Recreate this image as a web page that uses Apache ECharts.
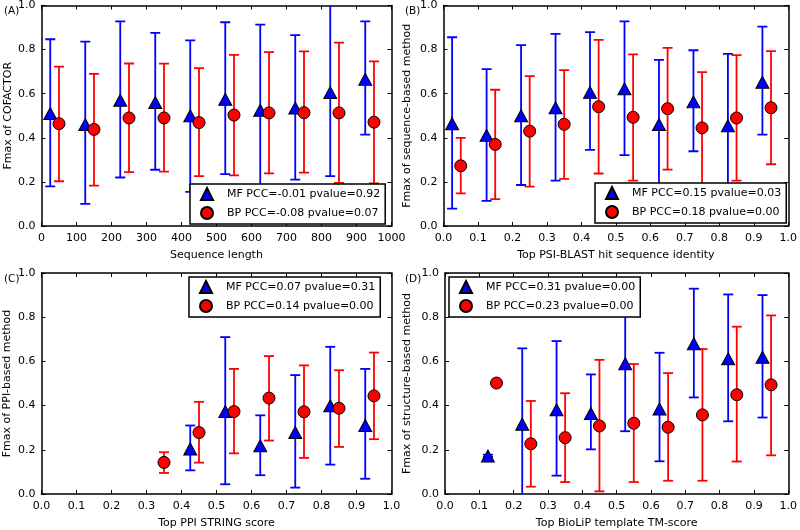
<!DOCTYPE html>
<html><head><meta charset="utf-8">
<script src="https://cdn.jsdelivr.net/npm/echarts@6/dist/echarts.min.js"></script>
<style>html,body{margin:0;padding:0;background:#fff}#c{width:800px;height:530px}</style>
</head><body><div id="c"></div>
<script>
// ---------- Panel A: Sequence length ----------
const A_mf_x    = [25,125,225,325,425,525,625,725,825,925];
const A_mf_mean = [0.51,0.46,0.57,0.56,0.50,0.575,0.525,0.535,0.605,0.665];
const A_mf_low  = [0.18,0.10,0.22,0.255,0.155,0.235,0.14,0.21,0.226,0.414];
const A_mf_high = [0.847,0.836,0.928,0.876,0.842,0.924,0.913,0.866,1.05,0.928];
const A_bp_x    = [50,150,250,350,450,550,650,750,850,950];
const A_bp_mean = [0.464,0.438,0.49,0.49,0.469,0.503,0.513,0.514,0.513,0.471];
const A_bp_low  = [0.203,0.183,0.244,0.247,0.226,0.23,0.239,0.242,0.196,0.193];
const A_bp_high = [0.723,0.69,0.737,0.736,0.716,0.776,0.789,0.792,0.832,0.747];
// ---------- Panel B: PSI-BLAST identity ----------
const B_mf_x    = [0.025,0.125,0.225,0.325,0.425,0.525,0.625,0.725,0.825,0.925];
const B_mf_mean = [0.464,0.411,0.5,0.536,0.606,0.622,0.46,0.563,0.455,0.652];
const B_mf_low  = [0.079,0.114,0.186,0.206,0.345,0.321,0.14,0.339,0.12,0.414];
const B_mf_high = [0.856,0.711,0.82,0.871,0.879,0.928,0.753,0.797,0.781,0.904];
const B_bp_x    = [0.05,0.15,0.25,0.35,0.45,0.55,0.65,0.75,0.85,0.95];
const B_bp_mean = [0.273,0.37,0.43,0.461,0.541,0.493,0.532,0.445,0.49,0.536];
const B_bp_low  = [0.148,0.122,0.179,0.214,0.238,0.206,0.256,0.17,0.206,0.28];
const B_bp_high = [0.4,0.618,0.68,0.707,0.844,0.778,0.808,0.698,0.775,0.793];
// ---------- Panel C: PPI STRING score ----------
const C_mf_x    = [0.425,0.525,0.625,0.725,0.825,0.925];
const C_mf_mean = [0.204,0.373,0.218,0.278,0.399,0.31];
const C_mf_low  = [0.107,0.044,0.085,0.029,0.133,0.069];
const C_mf_high = [0.31,0.71,0.356,0.538,0.666,0.566];
const C_bp_x    = [0.35,0.45,0.55,0.65,0.75,0.85,0.95];
const C_bp_mean = [0.143,0.278,0.373,0.434,0.372,0.388,0.444];
const C_bp_low  = [0.095,0.142,0.184,0.242,0.163,0.213,0.248];
const C_bp_high = [0.189,0.417,0.566,0.624,0.582,0.56,0.64];
// ---------- Panel D: BioLiP TM-score ----------
const D_mf_x    = [0.125,0.225,0.325,0.425,0.525,0.625,0.725,0.825,0.925];
const D_mf_mean = [0.172,0.316,0.381,0.364,0.589,0.385,0.68,0.612,0.619];
const D_mf_low  = [0.168,-0.05,0.083,0.202,0.284,0.148,0.437,0.329,0.346];
const D_mf_high = [0.178,0.659,0.692,0.541,0.88,0.639,0.929,0.903,0.9];
const D_bp_x    = [0.15,0.25,0.35,0.45,0.55,0.65,0.75,0.85,0.95];
const D_bp_mean = [0.502,0.227,0.255,0.308,0.32,0.302,0.358,0.449,0.494];
const D_bp_low  = [0.502,0.033,0.054,0.012,0.054,0.06,0.06,0.147,0.175];
const D_bp_high = [0.502,0.421,0.456,0.607,0.588,0.547,0.656,0.757,0.808];

const panelTags   = ['(A)','(B)','(C)','(D)'];
const xNames      = ['Sequence length','Top PSI-BLAST hit sequence identity','Top PPI STRING score','Top BioLiP template TM-score'];
const yNames      = ['Fmax of COFACTOR','Fmax of sequence-based method','Fmax of PPI-based method','Fmax of structure-based method'];
const mfLegend    = ['MF PCC=-0.01 pvalue=0.92','MF PCC=0.15 pvalue=0.03','MF PCC=0.07 pvalue=0.31','MF PCC=0.31 pvalue=0.00'];
const bpLegend    = ['BP PCC=-0.08 pvalue=0.07','BP PCC=0.18 pvalue=0.00','BP PCC=0.14 pvalue=0.00','BP PCC=0.23 pvalue=0.00'];

const panels = [
  {mf:[A_mf_x,A_mf_mean,A_mf_low,A_mf_high], bp:[A_bp_x,A_bp_mean,A_bp_low,A_bp_high], xmax:1000, xint:100, dec:0},
  {mf:[B_mf_x,B_mf_mean,B_mf_low,B_mf_high], bp:[B_bp_x,B_bp_mean,B_bp_low,B_bp_high], xmax:1, xint:0.1, dec:1},
  {mf:[C_mf_x,C_mf_mean,C_mf_low,C_mf_high], bp:[C_bp_x,C_bp_mean,C_bp_low,C_bp_high], xmax:1, xint:0.1, dec:1},
  {mf:[D_mf_x,D_mf_mean,D_mf_low,D_mf_high], bp:[D_bp_x,D_bp_mean,D_bp_low,D_bp_high], xmax:1, xint:0.1, dec:1}
];

const FONT = 'DejaVu Sans';
const grids = [
  {left:41.5, top:5,   width:350,   height:221},
  {left:443.5,top:5,   width:348,   height:221},
  {left:41.5, top:273, width:350,   height:221},
  {left:445,  top:273, width:346.5, height:221}
];
const yNameGaps = [28, 31, 29, 32];
const legendPos = [
  {left:190, top:184},
  {left:595, top:183},
  {left:189, top:277},
  {left:449, top:277}
];

const xAxes = [], yAxes = [], series = [], legends = [], graphics = [];
const tickStyle = {show:true, inside:true, length:4, lineStyle:{color:'#000', width:1}};
const lineStyle = {show:true, onZero:false, lineStyle:{color:'#000', width:1.5}};

panels.forEach((p, i) => {
  const fmtX = v => p.dec === 0 ? String(v) : v.toFixed(1);
  xAxes.push({
    type:'value', gridIndex:i, min:0, max:p.xmax, interval:p.xint, position:'bottom',
    name:xNames[i], nameLocation:'middle', nameGap:24,
    nameTextStyle:{fontFamily:FONT, fontSize:11, color:'#000'},
    axisLine:lineStyle, axisTick:tickStyle, splitLine:{show:false},
    axisLabel:{margin:7, fontFamily:FONT, fontSize:11, color:'#000', formatter:fmtX}
  });
  xAxes.push({
    type:'value', gridIndex:i, min:0, max:p.xmax, interval:p.xint, position:'top',
    axisLine:lineStyle, axisTick:tickStyle, splitLine:{show:false}, axisLabel:{show:false}
  });
  yAxes.push({
    type:'value', gridIndex:i, min:0, max:1, interval:0.2, position:'left',
    name:yNames[i], nameLocation:'middle', nameGap:yNameGaps[i], nameRotate:90,
    nameTextStyle:{fontFamily:FONT, fontSize:11, color:'#000'},
    axisLine:lineStyle, axisTick:tickStyle, splitLine:{show:false},
    axisLabel:{margin:6, fontFamily:FONT, fontSize:11, color:'#000', formatter:v => v.toFixed(1)}
  });
  yAxes.push({
    type:'value', gridIndex:i, min:0, max:1, interval:0.2, position:'right',
    axisLine:lineStyle, axisTick:tickStyle, splitLine:{show:false}, axisLabel:{show:false}
  });

  const mkErr = (arr, color, nm) => ({
    type:'custom', name:nm, xAxisIndex:2*i, yAxisIndex:2*i, clip:true, z:2,
    data: arr[0].map((x, k) => [x, arr[2][k], arr[3][k]]),
    renderItem:(params, api) => {
      const lo = api.coord([api.value(0), api.value(1)]);
      const hi = api.coord([api.value(0), api.value(2)]);
      const hw = 5;
      const st = {stroke:color, lineWidth:1.8};
      return {type:'group', children:[
        {type:'line', shape:{x1:lo[0], y1:lo[1], x2:hi[0], y2:hi[1]}, style:st},
        {type:'line', shape:{x1:lo[0]-hw, y1:lo[1], x2:lo[0]+hw, y2:lo[1]}, style:st},
        {type:'line', shape:{x1:hi[0]-hw, y1:hi[1], x2:hi[0]+hw, y2:hi[1]}, style:st}
      ]};
    }
  });
  series.push(mkErr(p.mf, '#0000ff', 'mf-err-' + i));
  series.push({
    type:'scatter', name:mfLegend[i], xAxisIndex:2*i, yAxisIndex:2*i, z:3,
    symbol:'triangle', symbolSize:[13,12],
    itemStyle:{color:'#0000ff', borderColor:'#000', borderWidth:1, opacity:1},
    data:p.mf[0].map((x, k) => [x, p.mf[1][k]])
  });
  series.push(mkErr(p.bp, '#ff0000', 'bp-err-' + i));
  series.push({
    type:'scatter', name:bpLegend[i], xAxisIndex:2*i, yAxisIndex:2*i, z:3,
    symbol:'circle', symbolSize:12,
    itemStyle:{color:'#ff0000', borderColor:'#000', borderWidth:1, opacity:1},
    data:p.bp[0].map((x, k) => [x, p.bp[1][k]])
  });

  legends.push({
    data:[{name:mfLegend[i], icon:'triangle'}, {name:bpLegend[i], icon:'circle'}],
    left:legendPos[i].left, top:legendPos[i].top, orient:'vertical',
    itemWidth:12, itemHeight:12, itemGap:5, padding:[3,5,4,10],
    backgroundColor:'#fff', borderColor:'#000', borderWidth:1.5, borderRadius:0,
    selectedMode:false, z:10,
    textStyle:{fontFamily:FONT, fontSize:11, color:'#000', padding:[0,0,0,9]}
  });

  graphics.push({
    type:'text', left: (i % 2 === 0) ? 4 : 405, top: grids[i].top + 1,
    style:{text:panelTags[i], font:'10.5px "DejaVu Sans"', fill:'#000'}
  });
});

const chart = echarts.init(document.getElementById('c'), null, {renderer:'canvas'});
chart.setOption({
  animation:false,
  backgroundColor:'#fff',
  grid:grids,
  xAxis:xAxes,
  yAxis:yAxes,
  legend:legends,
  series:series,
  graphic:graphics
});
</script>
</body></html>
